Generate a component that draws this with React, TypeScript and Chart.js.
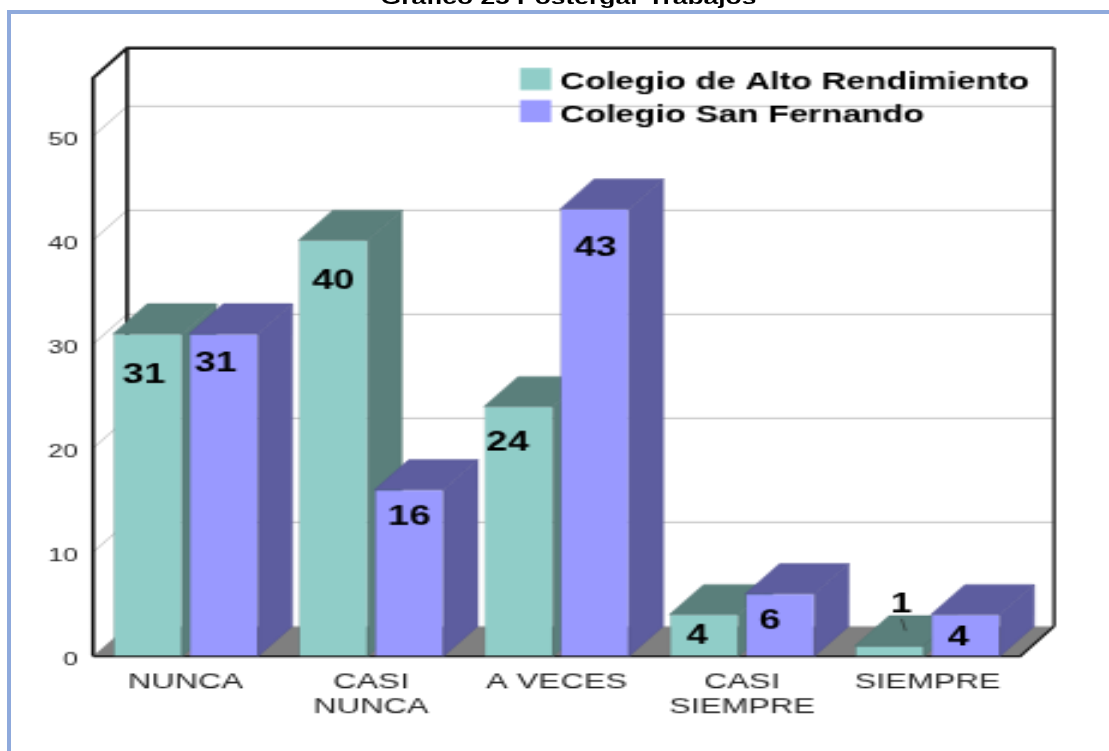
import React, { useEffect, useRef } from "react";
import { Chart, registerables } from "chart.js";

Chart.register(...registerables);

const categories: (string | string[])[] = ["NUNCA", ["CASI", "NUNCA"], "A VECES", ["CASI", "SIEMPRE"], "SIEMPRE"];
const colegioAlto = [31, 40, 24, 4, 1];
const colegioSan = [31, 16, 43, 6, 4];
const seriesNames = ["Colegio de Alto Rendimiento", "Colegio San Fernando"];
const yTicksStep = 10;
const yMax = 55.6;
const titleText = "Gráfico 25 Postergar Trabajos";

// the picture is a low-resolution image stretched unevenly: draw small, scale with CSS
const SX = 2.4;
const SY = 1.65;
const CW = Math.round(1109 / SX);
const CH = Math.round(751 / SY);
const px = (x: number) => x / SX;
const py = (y: number) => y / SY;
const DX = px(34);
const DY = py(-30);

const FRONT = ["#90CDC8", "#9999FF"];
const DARK = ["#5A7F7B", "#5D5D9F"];
const EDGE = ["#4F7370", "#51518F"];

// hand-placed value labels: offset from the bar's top centre [final px]
const labelOffsets = [
  [[-4, 38], [0, 39], [-11, 34], [-7, 18], [12, -43]],
  [[-8, 28], [0, 25], [1, 36], [-10, 24], [-7, 20]],
];

function poly(ctx: CanvasRenderingContext2D, pts: number[][], fill: string, stroke?: string) {
  ctx.beginPath();
  pts.forEach((p, i) => (i ? ctx.lineTo(p[0], p[1]) : ctx.moveTo(p[0], p[1])));
  ctx.closePath();
  ctx.fillStyle = fill;
  ctx.fill();
  if (stroke) {
    ctx.strokeStyle = stroke;
    ctx.lineWidth = 0.45;
    ctx.stroke();
  }
}

const scene = {
  id: "scene",
  beforeDatasetsDraw(chart: any) {
    const { ctx, chartArea: a, scales } = chart;
    const yS = scales.y;
    const { left, right, top, bottom } = a;
    ctx.save();
    // floor
    poly(ctx, [[left, bottom], [left + DX, bottom + DY], [right + DX, bottom + DY], [right, bottom]], "#7F7F7F");
    // grid lines
    ctx.strokeStyle = "#C4C4C4";
    ctx.lineWidth = 0.9;
    for (let v = yTicksStep; v <= 50; v += yTicksStep) {
      const y = yS.getPixelForValue(v);
      ctx.beginPath();
      ctx.moveTo(left, y);
      ctx.lineTo(left + DX, y + DY);
      ctx.lineTo(right + DX, y + DY);
      ctx.stroke();
    }
    // walls
    ctx.strokeStyle = "#111";
    ctx.lineWidth = 1.6;
    ctx.beginPath();
    ctx.moveTo(left, bottom);
    ctx.lineTo(left, top);
    ctx.lineTo(left + DX, top + DY);
    ctx.lineTo(right + DX, top + DY);
    ctx.moveTo(left + DX, top + DY);
    ctx.lineTo(left + DX, bottom + DY);
    ctx.stroke();
    ctx.strokeStyle = "#3a3a3a";
    ctx.beginPath();
    ctx.moveTo(right + DX, top + DY);
    ctx.lineTo(right + DX, bottom + DY);
    ctx.stroke();
    ctx.strokeStyle = "#111";
    ctx.lineWidth = 1.2;
    ctx.beginPath();
    ctx.moveTo(left, bottom);
    ctx.lineTo(right, bottom);
    ctx.lineTo(right + DX, bottom + DY);
    ctx.stroke();

    // bars, category by category, left to right
    const metas = [chart.getDatasetMeta(0), chart.getDatasetMeta(1)];
    categories.forEach((_, i) => {
      metas.forEach((m: any, d: number) => {
        const b = m.data[i];
        const l = b.x - b.width / 2;
        const r = b.x + b.width / 2;
        poly(ctx, [[l, b.y], [l + DX, b.y + DY], [r + DX, b.y + DY], [r, b.y]], DARK[d], EDGE[d]);
        poly(ctx, [[r, b.y], [r + DX, b.y + DY], [r + DX, b.base + DY], [r, b.base]], DARK[d], EDGE[d]);
        b.draw(ctx);
      });
    });

    // value labels
    ctx.fillStyle = "#000";
    ctx.font = "bold 16px 'Liberation Sans', Arial, sans-serif";
    ctx.textAlign = "center";
    ctx.textBaseline = "middle";
    metas.forEach((m: any, d: number) => {
      m.data.forEach((b: any, i: number) => {
        const v = chart.data.datasets[d].data[i];
        const [ox, oy] = labelOffsets[d][i];
        ctx.fillText(String(v), b.x + px(ox), b.y + py(oy + 3));
        if (oy < 0) {
          // leader line of a label that sits above its bar
          ctx.strokeStyle = "#222";
          ctx.lineWidth = 0.6;
          ctx.beginPath();
          ctx.moveTo(b.x + px(ox), b.y + py(oy + 16));
          ctx.lineTo(b.x + px(ox + 4), b.y + py(oy + 28));
          ctx.stroke();
        }
      });
    });

    // legend
    ctx.font = "bold 14.3px 'Liberation Sans', Arial, sans-serif";
    ctx.textAlign = "left";
    chart.data.datasets.forEach((ds: any, d: number) => {
      const cy = py(79 + d * 32);
      ctx.fillStyle = FRONT[d];
      ctx.fillRect(px(520), cy - py(11), px(31), py(22));
      ctx.fillStyle = "#000";
      ctx.fillText(ds.label, px(560), py(83 + d * 32));
    });
    ctx.restore();
    return false;
  },
};

export default function App() {
  const ref = useRef<HTMLCanvasElement>(null);
  useEffect(() => {
    const chart = new Chart(ref.current!, {
      type: "bar",
      plugins: [scene],
      data: {
        labels: categories as any,
        datasets: [colegioAlto, colegioSan].map((data, d) => ({
          label: seriesNames[d],
          data,
          backgroundColor: FRONT[d],
          borderColor: EDGE[d],
          borderWidth: 0.45,
          borderSkipped: false,
          barPercentage: 0.908,
          categoryPercentage: 0.819,
        })),
      },
      options: {
        responsive: false,
        devicePixelRatio: 1,
        animation: false,
        events: [],
        layout: { padding: { left: 0, bottom: 0, top: py(78), right: CW - px(1020) } },
        plugins: { legend: { display: false }, title: { display: false }, tooltip: { enabled: false } },
        scales: {
          x: {
            grid: { display: false },
            border: { display: false },
            ticks: {
              color: "#222",
              padding: py(1),
              maxRotation: 0,
              autoSkip: false,
              font: { family: "'Liberation Sans', Arial, sans-serif", size: 13.5, lineHeight: 1.08 },
            },
            afterFit: (s: any) => { s.height = CH - py(656); },
          },
          y: {
            min: 0,
            max: yMax,
            grid: { display: false, drawTicks: false },
            border: { display: false },
            ticks: {
              stepSize: yTicksStep,
              includeBounds: false,
              color: "#222",
              padding: px(15),
              // an empty first line pushes each label slightly below its tick, as in the picture
              callback: (v: number) => ["", String(v)],
              font: { family: "'Liberation Sans', Arial, sans-serif", size: 11.2, lineHeight: 0.45 },
            },
            afterFit: (s: any) => { s.width = px(93); },
          },
        },
      },
    } as any);
    return () => chart.destroy();
  }, []);
  return (
    <>
      <div
        style={{
          position: "fixed", left: 7, top: 10, width: 1102, height: 741,
          borderLeft: "4px solid #8FAADC", borderTop: "4px solid #8FAADC", boxSizing: "border-box",
        }}
      />
      <div
        style={{
          position: "fixed", left: 0, top: -13, width: 1137, textAlign: "center",
          font: "bold 19px 'Liberation Sans', Arial, sans-serif", color: "#000", whiteSpace: "nowrap",
          transform: "scaleX(1.39)", transformOrigin: "568.5px 0",
        }}
      >
        {titleText}
      </div>
      <canvas
        ref={ref}
        width={CW}
        height={CH}
        style={{ position: "fixed", left: 0, top: 0, width: 1109, height: 751, display: "block" }}
      />
    </>
  );
}
